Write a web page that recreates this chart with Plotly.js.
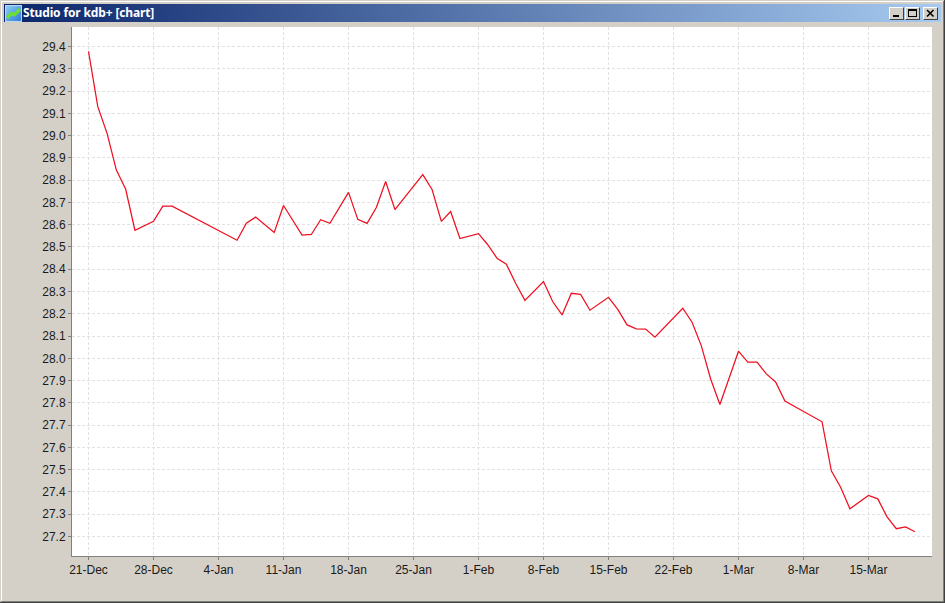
<!DOCTYPE html>
<html>
<head>
<meta charset="utf-8">
<script src="https://cdn.plot.ly/plotly-3.0.1.min.js"></script>
<style>
html,body{margin:0;padding:0;width:945px;height:603px;overflow:hidden;background:#d4d0c8;}
#win{position:absolute;left:0;top:0;width:945px;height:603px;box-sizing:border-box;background:#d4d0c8;}
.edge{position:absolute;}
#bar{position:absolute;left:4px;top:4px;width:937px;height:18px;background:linear-gradient(to right,#0a246a 0%,#a6caf0 100%);}
#ttl{position:absolute;left:23px;top:5px;height:16px;color:#fff;font:bold 12px/16px "Noto Sans",sans-serif;letter-spacing:-0.14px;white-space:nowrap;}
#ico{position:absolute;left:5px;top:5px;}
.btn{position:absolute;top:7px;width:15px;height:13px;box-sizing:border-box;background:#d4d0c8;border:1px solid;border-color:#fff #404040 #404040 #fff;}
#chart{position:absolute;left:0;top:0;width:945px;height:603px;}
</style>
</head>
<body>
<div id="win">
  <div class="edge" style="left:0;top:0;width:945px;height:1px;background:#d4d0c8"></div>
  <div class="edge" style="left:1px;top:1px;width:943px;height:1px;background:#fff"></div>
  <div class="edge" style="left:1px;top:1px;width:1px;height:601px;background:#fff"></div>
  <div class="edge" style="right:0;top:0;width:1px;height:603px;background:#404040"></div>
  <div class="edge" style="right:1px;top:1px;width:1px;height:601px;background:#808080"></div>
  <div class="edge" style="left:0;bottom:0;width:945px;height:1px;background:#404040"></div>
  <div class="edge" style="left:1px;bottom:1px;width:943px;height:1px;background:#808080"></div>
  <div id="chart"></div>
  <div id="bar"></div>
  <svg id="ico" width="17" height="17" viewBox="0 0 16 16">
    <defs><linearGradient id="g" x1="0" y1="0" x2="1" y2="1"><stop offset="0" stop-color="#8fd0f5"/><stop offset="1" stop-color="#2a78d8"/></linearGradient></defs>
    <rect x="0.5" y="0.5" width="15" height="15" fill="url(#g)" stroke="#b8d8f0"/>
    <path d="M2 12 L6 8 L9 9 L14 4" fill="none" stroke="#6fe030" stroke-width="3"/>
  </svg>
  <div id="ttl">Studio for kdb+ [chart]</div>
  <div class="btn" style="left:889px"><svg width="13" height="11" style="display:block"><rect x="3" y="7" width="6" height="2" fill="#000"/></svg></div>
  <div class="btn" style="left:905px"><svg width="13" height="11" style="display:block"><rect x="2.5" y="1.5" width="8" height="7" fill="none" stroke="#000"/><rect x="2" y="1" width="9" height="2" fill="#000"/></svg></div>
  <div class="btn" style="left:923px"><svg width="13" height="11" style="display:block"><path d="M3 2 L9.5 8.5 M9.5 2 L3 8.5" stroke="#000" stroke-width="1.6"/></svg></div>
</div>
<script>
var dates = ["2010-12-21","2010-12-22","2010-12-23","2010-12-24","2010-12-25","2010-12-26","2010-12-28","2010-12-29","2010-12-30",
"2011-01-06","2011-01-07","2011-01-08","2011-01-10","2011-01-11","2011-01-13","2011-01-14","2011-01-15","2011-01-16",
"2011-01-18","2011-01-19","2011-01-20","2011-01-21","2011-01-22","2011-01-23","2011-01-26","2011-01-27","2011-01-28","2011-01-29","2011-01-30",
"2011-02-01","2011-02-02","2011-02-03","2011-02-04","2011-02-05","2011-02-06","2011-02-08","2011-02-09","2011-02-10","2011-02-11","2011-02-12","2011-02-13",
"2011-02-15","2011-02-16","2011-02-17","2011-02-18","2011-02-19","2011-02-20","2011-02-23","2011-02-24","2011-02-25","2011-02-26","2011-02-27",
"2011-03-01","2011-03-02","2011-03-03","2011-03-04","2011-03-05","2011-03-06","2011-03-10","2011-03-11","2011-03-12","2011-03-13",
"2011-03-15","2011-03-16","2011-03-17","2011-03-18","2011-03-19","2011-03-20"];
var prices = [29.378,29.13,29.01,28.845,28.76,28.575,28.615,28.683,28.683,
28.53,28.607,28.634,28.565,28.686,28.553,28.556,28.622,28.606,
28.745,28.624,28.606,28.677,28.794,28.668,28.825,28.758,28.615,28.659,28.538,
28.56,28.51,28.449,28.423,28.337,28.26,28.345,28.254,28.195,28.292,28.287,28.216,
28.274,28.22,28.15,28.132,28.131,28.095,28.225,28.162,28.056,27.907,27.793,
28.032,27.983,27.983,27.93,27.894,27.808,27.715,27.495,27.421,27.324,
27.384,27.369,27.288,27.235,27.243,27.221];
var xRange = ["2010-12-19 05:21","2011-03-21 20:10"];
var yRange = [27.1124,29.4876];

var grid = "#e2e2e2";
var tickFont = {family:'"Liberation Sans",Arial,sans-serif',size:12,color:"#1a1a1a"};

Plotly.newPlot("chart",[{
  x:dates,y:prices,type:"scatter",mode:"lines",
  line:{color:"#ee1020",width:1.25,shape:"linear"},hoverinfo:"skip"
}],{
  width:945,height:603,showlegend:false,
  paper_bgcolor:"rgba(0,0,0,0)",plot_bgcolor:"#ffffff",
  margin:{l:72,r:13,t:27,b:47,pad:0},
  xaxis:{type:"date",range:xRange,tick0:"2010-12-21",dtick:7*86400000,tickformat:"%-d-%b",
    showgrid:true,gridcolor:grid,griddash:"3px,2px",gridwidth:1,zeroline:false,
    showline:true,linecolor:"#808080",linewidth:1,ticks:"outside",ticklen:3,tickcolor:"#808080",tickfont:tickFont},
  yaxis:{range:yRange,tick0:27.2,dtick:0.1,tickformat:".1f",
    showgrid:true,gridcolor:grid,griddash:"3px,2px",gridwidth:1,zeroline:false,
    showline:true,linecolor:"#808080",linewidth:1,ticks:"outside",ticklen:3,tickcolor:"#808080",tickfont:tickFont}
},{staticPlot:true,displayModeBar:false});
</script>
</body>
</html>
